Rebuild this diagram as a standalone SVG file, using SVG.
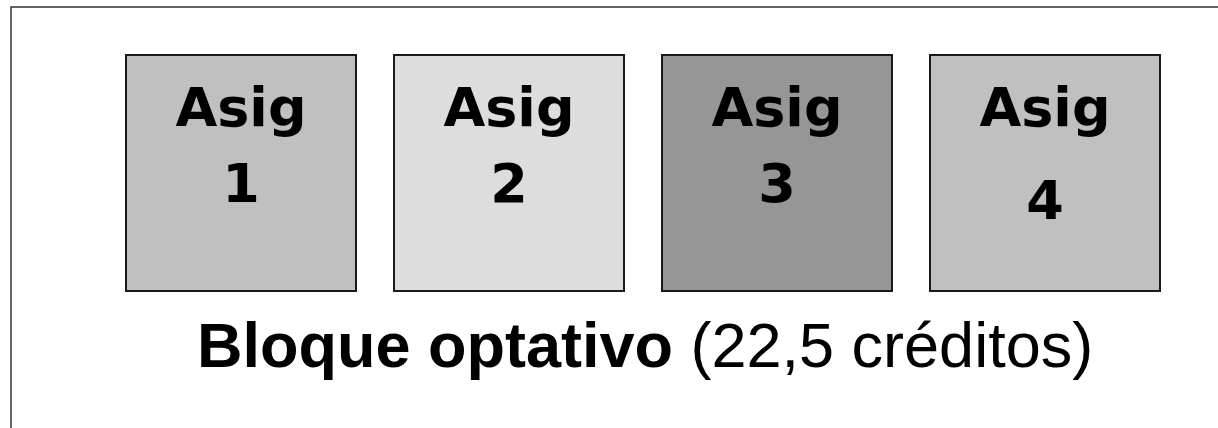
<svg xmlns="http://www.w3.org/2000/svg" width="1218" height="428" viewBox="0 0 1218 428">
<style>
.box{stroke:#1a1a1a;stroke-width:2}
.lbl{font-family:"Comic Sans MS","DejaVu Sans",sans-serif;font-weight:bold;font-size:54px;text-anchor:middle;fill:#000}
.cap{font-family:"Liberation Sans",Arial,sans-serif;font-size:63px;fill:#000}
</style>
<rect width="1218" height="428" fill="#fff"/>
<path d="M11,430 V7 H1220" fill="none" stroke="#333" stroke-width="1.5"/>
<g id="asig1">
<rect class="box" x="126" y="55" width="230" height="236" fill="#c0c0c0"/>
<text class="lbl" x="241" y="126">Asig</text>
<text class="lbl" x="241" y="202">1</text>
</g>
<g id="asig2">
<rect class="box" x="394" y="55" width="230" height="236" fill="#dddddd"/>
<text class="lbl" x="509" y="126">Asig</text>
<text class="lbl" x="509" y="202">2</text>
</g>
<g id="asig3">
<rect class="box" x="662" y="55" width="230" height="236" fill="#969696"/>
<text class="lbl" x="777" y="126">Asig</text>
<text class="lbl" x="777" y="202">3</text>
</g>
<g id="asig4">
<rect class="box" x="930" y="55" width="230" height="236" fill="#c0c0c0"/>
<text class="lbl" x="1045" y="126">Asig</text>
<text class="lbl" x="1045" y="219">4</text>
</g>
<g id="connectors"/>
<g id="caption">
<text class="cap" x="197" y="367"><tspan font-weight="bold">Bloque optativo</tspan> (22,5 créditos)</text>
</g>
</svg>
